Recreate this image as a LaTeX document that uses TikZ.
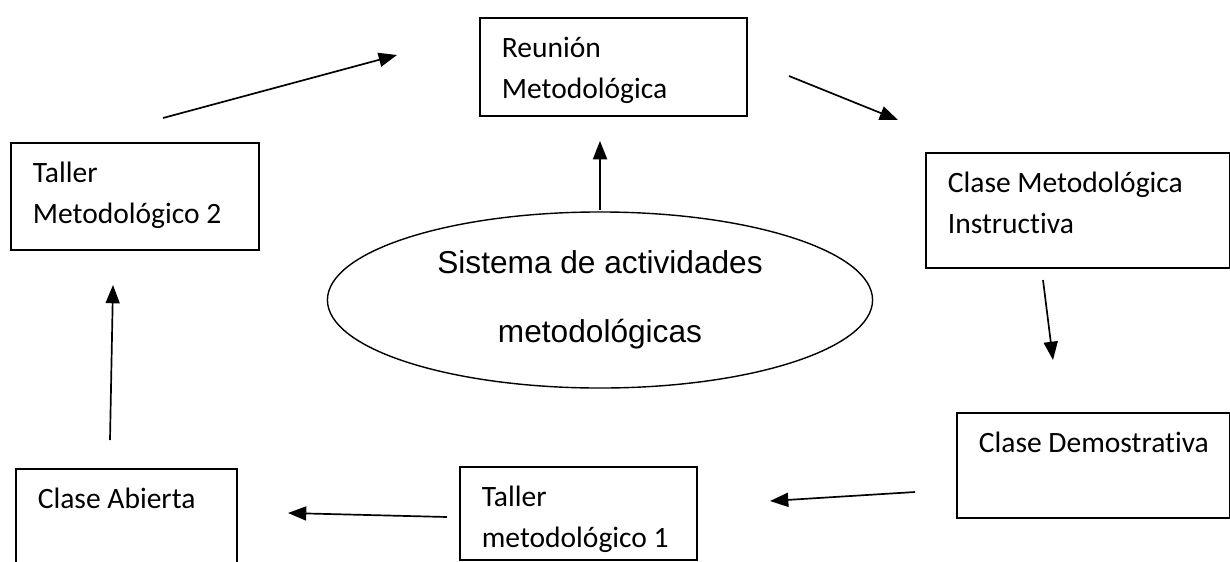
\documentclass[tikz,border=0pt]{standalone}
\usepackage{fontspec}
\setmainfont{Carlito}[Ligatures={NoCommon,NoDiscretionary}]
\newfontfamily\arialfam{Liberation Sans}
\usetikzlibrary{arrows.meta,shapes.geometric}

% texto de una caja: ancho total, alto total, lineas
\newcommand{\textocaja}[3]{\parbox[c][#2][t]{\dimexpr#1-1.1cm\relax}{\raggedright\rule{0pt}{28pt}#3}}

\tikzset{
	caja/.style={draw, line width=1.2pt, anchor=north west, inner xsep=0.55cm, inner ysep=0pt,
		font=\fontsize{21}{29}\selectfont},
	elipse/.style={draw, ellipse, line width=1pt, inner sep=0pt, align=center,
		minimum width=13.625cm, minimum height=4.4cm,
		font=\arialfam\fontsize{22.5}{49}\selectfont},
	flecha/.style={line width=1.2pt, -{Triangle[length=13pt,width=10pt]}}
}

\begin{document}
\begin{tikzpicture}[x=0.025cm,y=-0.025cm]
	\useasboundingbox (0,0) rectangle (1230,561);
	\clip (0,0) rectangle (1230,561);
	% cajas
	\node[caja] (reunion) at (479,17) {\textocaja{6.675cm}{2.45cm}{Reunión\\Metodológica}};
	\node[caja] (taller2) at (10,142) {\textocaja{6.2cm}{2.675cm}{Taller\\Metodológico 2}};
	\node[caja] (instructiva) at (925,152) {\textocaja{7.6cm}{2.875cm}{\mbox{Clase Metodológica}\\Instructiva}};
	\node[caja] (demostrativa) at (956,412) {\textocaja{6.825cm}{2.625cm}{\mbox{Clase Demostrativa}}};
	\node[caja] (taller1) at (459,466) {\textocaja{5.925cm}{2.325cm}{Taller\\metodológico 1}};
	\node[caja] (abierta) at (15,468) {\textocaja{5.525cm}{2.75cm}{Clase Abierta}};
	\node[elipse] (sistema) at (600,300) {Sistema de actividades\\metodológicas};
	% extremos de las flechas
	\coordinate (t2a) at (163,118);
	\coordinate (t2b) at (397,55);
	\coordinate (rea) at (789,76);
	\coordinate (reb) at (898,120);
	\coordinate (sia) at (600,210);
	\coordinate (sib) at (600,141);
	\coordinate (ina) at (1043,280);
	\coordinate (inb) at (1053,360);
	\coordinate (dea) at (915,492);
	\coordinate (deb) at (770,501);
	\coordinate (t1a) at (447,517);
	\coordinate (t1b) at (288,513);
	\coordinate (aba) at (110,440);
	\coordinate (abb) at (113,285);
	\draw[flecha] (t2a) -- (t2b);
	\draw[flecha] (rea) -- (reb);
	\draw[flecha] (sia) -- (sib);
	\draw[flecha] (ina) -- (inb);
	\draw[flecha] (dea) -- (deb);
	\draw[flecha] (t1a) -- (t1b);
	\draw[flecha] (aba) -- (abb);
\end{tikzpicture}
\end{document}
